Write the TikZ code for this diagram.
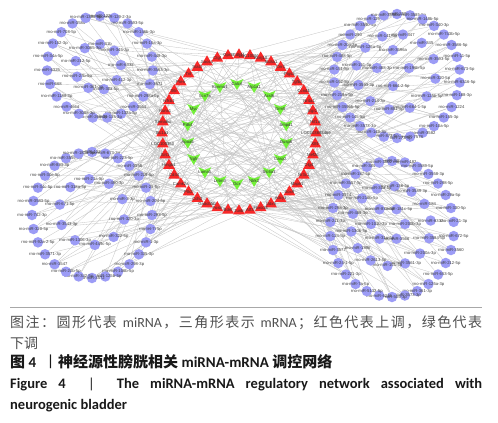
\documentclass[tikz,border=0pt]{standalone}
\usepackage{fontspec}
\setmainfont{Carlito}
\newfontfamily\cjk{Noto Sans CJK SC}
\newfontfamily\netfont{Liberation Sans}
\usetikzlibrary{shapes.geometric}
\pgfdeclarelayer{bg}
\pgfdeclarelayer{edges}
\pgfsetlayers{bg,edges,main}
\definecolor{mirblue}{HTML}{9C9CF6}
\definecolor{upred}{HTML}{F82828}
\definecolor{downgreen}{HTML}{74F03A}
\definecolor{edgegray}{HTML}{C4C4C4}
\definecolor{capgray}{HTML}{505050}
\definecolor{rulegray}{HTML}{A8A8A8}
\tikzset{
  mir/.style={circle, fill=mirblue, minimum size=10.5pt, inner sep=0pt},
  mirlab/.style={font=\netfont\fontsize{4.2}{5}\selectfont, text=black!75, inner sep=0pt},
  genelab/.style={font=\netfont\fontsize{4.2}{5}\selectfont, text=black!80, inner sep=0pt},
  upnode/.style={regular polygon, regular polygon sides=3, fill=upred, minimum size=13.5pt, inner sep=0pt},
  downnode/.style={circle, minimum size=9pt, inner sep=0pt},
  edge/.style={draw=edgegray, line width=0.3pt},
}
\def\cjkspread#1{\ifx\relax#1\else#1\hskip 0pt plus 1fil\relax\expandafter\cjkspread\fi}
% prefix, N, cx, cy, rx, ry, start, list
\newcommand\mirring[8]{%
  \foreach \lab [count=\i] in {#8} {%
    \pgfmathsetmacro\ang{#7+(\i-1)*360/#2}%
    \node[mir, label={[mirlab]center:\lab}] (#1\i) at ({#3+#5*cos(\ang)},{#4+#6*sin(\ang)}) {};
  }%
}
% prefix, N, j0, k
\newcommand\mirlinks[4]{%
  \foreach \i in {1,...,#2} {%
    \pgfmathtruncatemacro\ta{mod(#3+mod(\i*7+#4*3,15)-7+44,44)}%
    \pgfmathtruncatemacro\tb{mod(\i*17+#4*5,44)}%
    \pgfmathtruncatemacro\gg{mod(\i*5+#4*4,18)}%
    \pgfmathtruncatemacro\isg{mod(\i+#4,3)==0}%
    \draw[edge] (#1\i) -- (r\ta);
    \draw[edge] (#1\i) -- (r\tb);
    \ifnum\isg=1 \draw[edge] (#1\i) -- (g\gg);\fi
  }%
}
\begin{document}
\begin{tikzpicture}[x=1pt,y=-1pt]
\begin{pgfonlayer}{bg}
\fill[white] (0,0) rectangle (498,423);
\end{pgfonlayer}
\useasboundingbox (0,0) rectangle (498,423);

% ---- green (down-regulated) mRNA, inner ring ----
\foreach \lab [count=\c] in {Calcrl,Atp1a1,Acsl6,Grm5,Smpd1,Dusp6,Casq2,Slc6a1,Ntrk2,Dcx,Lrrtm3,Lama1,Ngfr,Apoa5,Pdk4,Myc,Scn7a,Kcnma1} {
  \pgfmathtruncatemacro\j{\c-1}
  \pgfmathsetmacro\ang{-90+\j*20}
  \coordinate (gc\j) at ({237+50*cos(\ang)},{134+50*sin(\ang)});
  \fill[downgreen] (gc\j) ++(-6.5pt,5pt) -- ++(6.5pt,-2.5pt) -- ++(6.5pt,2.5pt) -- ++(-6.5pt,-11pt) -- cycle;
  \node[downnode, label={[genelab]center:\lab}] (g\j) at (gc\j) {};
}

% ---- red (up-regulated) mRNA, outer ring ----
\foreach \lab [count=\c] in {Cdh11,LOC100911,Kcnj10,Slc8a1,Cnr1,Ptgs2,Tgfb2,Ccnd1,Nr4a1,Egr2,Hif1a,LOC103693469,Klf4,Mef2c,Dlg4,Nr3c1,Mapk1,Sox9,Adcy1,Ddx5,Fbxo33,Atf3,Junb,Bdnf,Fosb,Gadd45b,Cdh2,Ptk2,Camk2a,Cd44,Hmgb1,Sirt1,LOC100360,Slc1a1,Sema6d,Runx1,Nfkb1,Il6r,Pten,Tnf,Stat3,Socs3,Ctgf,Gpr3} {
  \pgfmathtruncatemacro\j{\c-1}
  \pgfmathsetmacro\ang{-90+\j*360/44}
  \node[upnode, label={[genelab]center:\lab}] (r\j) at ({239+77*cos(\ang)},{133+78*sin(\ang)}) {};
}

% ---- miRNA clusters ----
\mirring{tlo}{23}{100}{67}{53}{51}{-90}{rno-miR-1224,rno-miR-129-2-3p,rno-miR-3593-5p,rno-miR-146b-3p,rno-miR-15a-3p,rno-miR-448-3p,rno-miR-3563-3p,rno-miR-3571,rno-miR-298a-5p,rno-miR-3564,rno-miR-132a-5p,rno-miR-135-3p,rno-miR-26b-3p,rno-miR-3068-3p,rno-miR-466d,rno-miR-1188-3p,rno-miR-668,rno-miR-6325,rno-miR-34a-5p,rno-miR-152-3p,rno-miR-708-5p,rno-miR-3585,rno-miR-1306-5p}
\mirring{tli}{9}{98}{67}{23}{23}{-85}{rno-miR-31b,rno-miR-345-3p,rno-miR-6332,rno-miR-412-3p,rno-miR-30a-5p,rno-miR-361-3p,rno-miR-27b-5p,rno-miR-212-5p,rno-miR-3065-3p}

\mirring{tro}{30}{397}{76}{63}{62}{-90}{rno-miR-3596c,rno-miR-3585-5p,rno-miR-148b-5p,rno-miR-340-3p,rno-miR-743b-5p,rno-miR-3586-5p,rno-miR-11-5p,rno-miR-673-5p,rno-miR-6316-5p,rno-miR-188-3p,rno-miR-1224,rno-miR-155-3p,rno-miR-10a-5p,rno-miR-3582,rno-miR-7578,rno-miR-273-5p,rno-miR-873-5p,rno-miR-149-3p,rno-miR-3573-3p,rno-miR-145-5p,rno-miR-3596b-5p,rno-miR-219a-5p,rno-miR-192-5p,rno-miR-151-5p,rno-miR-488-5p,rno-miR-204-3p,rno-miR-290,rno-miR-3590-5p,rno-miR-129-5p,rno-miR-3593}
\mirring{trm}{12}{396}{72}{40}{38}{-80}{rno-miR-347,rno-miR-345,rno-miR-3593-5p,rno-miR-320-5p,rno-miR-125b-5p,rno-miR-664-1-5p,rno-miR-881-5p,rno-miR-214-3p,rno-miR-3593-3p,rno-miR-151-3p,rno-miR-125a-5p,rno-miR-141-5p}
\mirring{tri}{4}{393}{68}{16}{18}{-90}{rno-miR-3596a,rno-miR-196b-5p,rno-miR-664-2-5p,rno-miR-488-3p}

\mirring{blo}{28}{92}{215}{60}{63}{-90}{rno-miR-132-3p,rno-miR-673-3p,rno-miR-223-5p,rno-miR-3558,rno-miR-219-5p,rno-miR-25-5p,rno-miR-204-5p,rno-miR-293-5p,rno-let-7i-5p,rno-miR-1-3p,rno-miR-335-3p,rno-miR-298-3p,rno-miR-106b-5p,rno-miR-125b-5p,rno-miR-3572,rno-miR-342-5p,rno-miR-20b-5p,rno-miR-3547,rno-miR-3571-3p,rno-miR-92a-2-5p,rno-miR-320-5p,rno-miR-742-3p,rno-miR-3583-5p,rno-miR-34c-5p,rno-miR-30e-5p,rno-miR-883-3p,rno-miR-3559-5p,rno-miR-181a-5p}
\mirring{blm}{10}{92}{212}{33}{33}{-95}{rno-miR-21a-5p,rno-miR-490-3p,rno-miR-3-3p,rno-miR-320-3p,rno-miR-322-5p,rno-miR-449c-5p,rno-miR-1306-3p,rno-miR-3543-3p,rno-miR-671-5p,rno-miR-318a-5p}

\mirring{bro}{30}{392}{229}{62}{68}{-90}{rno-miR-34b-5p,rno-miR-182,rno-miR-3589-5p,rno-miR-3558-3p,rno-miR-298-5p,rno-miR-29a-5p,rno-miR-330-5p,rno-miR-21-3p,rno-miR-672-5p,rno-miR-3560,rno-miR-212-5p,rno-miR-653-5p,rno-miR-125a-3p,rno-miR-361-3p,rno-miR-3573-3p,rno-miR-505-3p,rno-miR-6215,rno-miR-5132-5p,rno-miR-7a-5p,rno-miR-221-3p,rno-miR-24-1-5p,rno-miR-3577,rno-miR-124-5p,rno-miR-211-3p,rno-miR-298-3p,rno-miR-3574,rno-miR-3557-5p,rno-miR-187-5p,rno-miR-384-5p,rno-miR-3102}
\mirring{brm}{14}{391}{226}{40}{40}{-85}{rno-miR-136-5p,rno-miR-3589-3p,rno-miR-184,rno-miR-6332,rno-miR-3584-5p,rno-miR-200a-3p,rno-miR-3561-3p,rno-miR-151-5p,rno-miR-2613-5p,rno-miR-1896,rno-miR-1306-5p,rno-miR-488-3p,rno-miR-216b-5p,rno-miR-30a-5p}
\mirring{bri}{6}{388}{224}{17}{17}{-60}{rno-miR-181c-5p,rno-miR-200b-3p,rno-miR-3566,rno-miR-31a-5p,rno-miR-101b-3p,rno-miR-873-3p}

% ---- connectors ----
\begin{pgfonlayer}{edges}
\mirlinks{tlo}{23}{36}{1}
\mirlinks{tli}{9}{36}{2}
\mirlinks{tro}{30}{9}{3}
\mirlinks{trm}{12}{9}{4}
\mirlinks{tri}{4}{9}{5}
\mirlinks{blo}{28}{29}{6}
\mirlinks{blm}{10}{29}{7}
\mirlinks{bro}{30}{15}{8}
\mirlinks{brm}{14}{15}{9}
\mirlinks{bri}{6}{15}{10}
\foreach \j in {0,...,43} {
  \pgfmathtruncatemacro\gg{mod(\j*7,18)}
  \draw[edge] (r\j) -- (g\gg);
}
\end{pgfonlayer}

% ---- caption ----
\coordinate (rl) at (10,307);
\coordinate (rr) at (482,307);
\draw[rulegray, line width=0.7pt] (rl) -- (rr);

\node[anchor=base west, inner sep=0pt, text=capgray, font=\fontsize{14}{16}\selectfont] (cap1) at (10,327)
  {\makebox[472pt][s]{\cjk\cjkspread 图注：圆形代表\relax\hskip 3pt plus 1fil\rmfamily miRNA\hskip 0pt plus 1fil\cjk\cjkspread ，三角形表示\relax\hskip 3pt plus 1fil\rmfamily mRNA\hskip 0pt plus 1fil\cjk\cjkspread ；红色代表上调，绿色代\relax 表}};
\node[anchor=base west, inner sep=0pt, text=capgray, font=\fontsize{14}{16}\selectfont] (cap2) at (10,348) {\cjk 下调};
\node[anchor=base west, inner sep=0pt, text=black!90, font=\fontsize{15}{17}\selectfont\bfseries] (cap3) at (10,367.5)
  {{\cjk 图} 4\hspace{7pt}{\cjk\mdseries 丨}{\cjk 神经源性膀胱相关} miRNA-mRNA {\cjk 调控网络}};
\node[anchor=base west, inner sep=0pt, text=black!90, font=\fontsize{14.5}{17}\selectfont\bfseries] (cap4) at (10,388)
  {\makebox[472pt][s]{Figure 4 \ {\mdseries |} \ The miRNA-mRNA regulatory network associated with}};
\node[anchor=base west, inner sep=0pt, text=black!90, font=\fontsize{14.5}{17}\selectfont\bfseries] (cap5) at (10,409.5) {neurogenic bladder};
\end{tikzpicture}
\end{document}
